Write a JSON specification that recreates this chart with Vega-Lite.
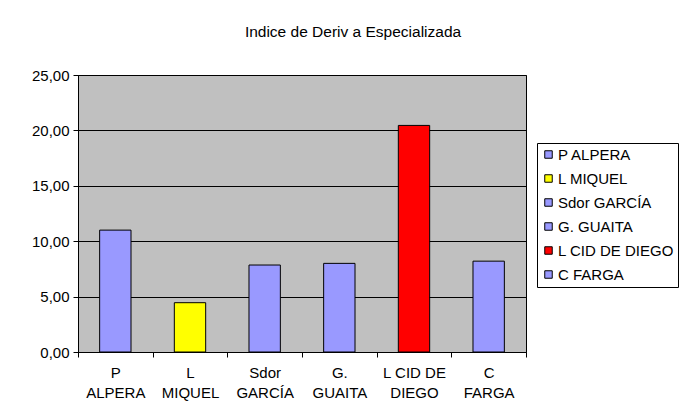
{
  "$schema": "https://vega.github.io/schema/vega-lite/v6.json",
  "width": 448,
  "height": 277,
  "autosize": "none",
  "padding": {"left": 78, "top": 75, "right": 156, "bottom": 58},
  "background": "white",
  "title": {
    "text": "Indice de Deriv a Especializada",
    "anchor": "middle",
    "dx": 51,
    "offset": 28,
    "font": "Liberation Sans",
    "fontSize": 15.5,
    "fontWeight": "normal",
    "color": "black"
  },
  "data": {
    "values": [
      {"name": "P ALPERA", "value": 11.0},
      {"name": "L MIQUEL", "value": 4.45},
      {"name": "Sdor GARCÍA", "value": 7.85},
      {"name": "G. GUAITA", "value": 8.0},
      {"name": "L CID DE DIEGO", "value": 20.45},
      {"name": "C FARGA", "value": 8.2}
    ]
  },
  "mark": {"type": "bar", "stroke": "black", "strokeWidth": 1, "width": {"band": 0.42}},
  "encoding": {
    "x": {
      "field": "name",
      "type": "nominal",
      "sort": null,
      "scale": {"paddingInner": 0, "paddingOuter": 0},
      "axis": {
        "title": null,
        "labelAngle": 0,
        "tickBand": "extent",
        "tickSize": 5,
        "tickColor": "black",
        "domainColor": "black",
        "labelPadding": 8,
        "labelLineHeight": 20,
        "labelExpr": "datum.label == 'L CID DE DIEGO' ? ['L CID DE', 'DIEGO'] : split(datum.label, ' ')"
      }
    },
    "y": {
      "field": "value",
      "type": "quantitative",
      "scale": {"domain": [0, 25], "nice": false},
      "axis": {
        "title": null,
        "values": [0, 5, 10, 15, 20, 25],
        "tickSize": 5,
        "tickColor": "black",
        "domainColor": "black",
        "grid": true,
        "gridColor": "black",
        "gridOpacity": 1,
        "labelPadding": 4,
        "labelExpr": "replace(format(datum.value, '.2f'), '.', ',')"
      }
    },
    "color": {
      "field": "name",
      "type": "nominal",
      "sort": null,
      "scale": {
        "domain": ["P ALPERA", "L MIQUEL", "Sdor GARCÍA", "G. GUAITA", "L CID DE DIEGO", "C FARGA"],
        "range": ["#9999FF", "#FFFF00", "#9999FF", "#9999FF", "#FF0000", "#9999FF"]
      },
      "legend": {
        "title": null,
        "orient": "none",
        "legendX": 459,
        "legendY": 68,
        "symbolType": "square",
        "symbolSize": 56,
        "symbolStrokeColor": "black",
        "symbolStrokeWidth": 1,
        "strokeColor": "black",
        "padding": 4,
        "rowPadding": 8,
        "labelFontSize": 15,
        "labelOffset": 2,
        "labelColor": "black",
        "labelFont": "Liberation Sans"
      }
    }
  },
  "config": {
    "font": "Liberation Sans",
    "view": {"fill": "#C0C0C0", "stroke": "black", "strokeWidth": 1},
    "axis": {"labelFontSize": 15, "labelColor": "black", "labelFont": "Liberation Sans", "domainWidth": 1}
  }
}
